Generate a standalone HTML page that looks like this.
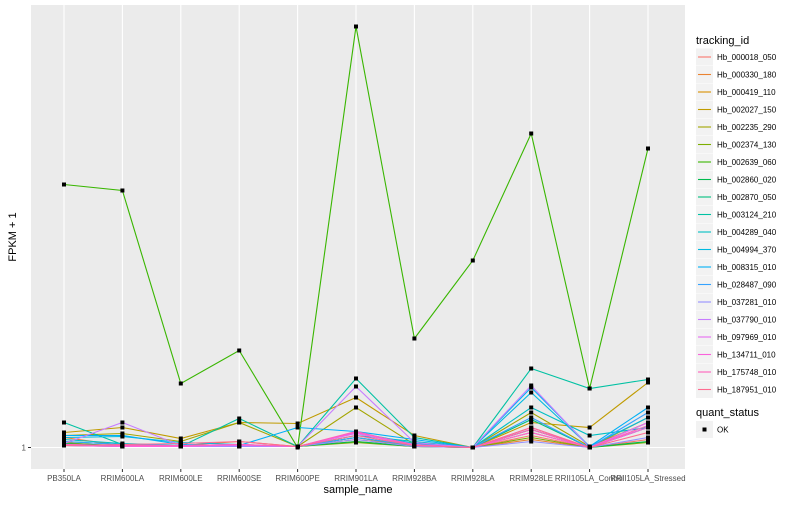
<!DOCTYPE html>
<html><head><meta charset="utf-8"><style>
body{margin:0;background:#fff;font-family:"Liberation Sans",sans-serif}
svg text{font-family:"Liberation Sans",sans-serif}
</style></head><body>
<svg id="chart" width="800" height="500">
<rect x="31" y="5" width="654" height="464" fill="#ebebeb"/>
<g id="grid"></g><g id="lines"></g><g id="pts"></g><g id="axes"></g><g id="legend"></g>
</svg>
<script>
const categories=["PB350LA","RRIM600LA","RRIM600LE","RRIM600SE","RRIM600PE","RRIM901LA","RRIM928BA","RRIM928LA","RRIM928LE","RRII105LA_Control","RRII105LA_Stressed"];
const seriesNames=["Hb_000018_050","Hb_000330_180","Hb_000419_110","Hb_002027_150","Hb_002235_290","Hb_002374_130","Hb_002639_060","Hb_002860_020","Hb_002870_050","Hb_003124_210","Hb_004289_040","Hb_004994_370","Hb_008315_010","Hb_028487_090","Hb_037281_010","Hb_037790_010","Hb_097969_010","Hb_134711_010","Hb_175748_010","Hb_187951_010"];
const colors=["#F8766D","#EA8331","#D89000","#C09B00","#A3A500","#7CAE00","#39B600","#00BB4E","#00BF7D","#00C1A3","#00BFC4","#00BAE0","#00B0F6","#35A2FF","#9590FF","#C77CFF","#E76BF3","#FA62DB","#FF62BC","#FF6C91"];
const s0=[3,2,1,2,1,8,2,0,12,0,8];
const s1=[10,2,2,6,1,6,1,0,8,0,25];
const s2=[5,1,2,1,1,10,1,0,15,0,30];
const s3=[15,20,9,25,24,50,12,0,25,20,65];
const s4=[12,14,6,25,1,40,3,0,35,1,25];
const s5=[2,1,1,1,1,5,1,0,10,0,5];
const s6=[263,257,64,97,0,421,109,187,314,59,299];
const s7=[4,2,1,2,1,6,1,0,18,0,6];
const s8=[6,3,1,2,1,10,2,0,28,0,20];
const s9=[25,3,1,29,1,69,10,0,79,59,68];
const s10=[8,4,2,2,1,12,6,0,40,12,20];
const s11=[10,11,5,3,1,15,4,0,55,1,30];
const s12=[12,12,3,2,20,16,8,0,60,1,40];
const s13=[6,3,2,1,1,10,2,0,30,0,35];
const s14=[2,1,1,1,1,8,1,0,6,0,10];
const s15=[4,25,2,3,1,61,5,0,62,0,25];
const s16=[3,2,1,2,1,14,2,0,20,0,25];
const s17=[2,1,1,3,1,15,3,0,15,0,20];
const s18=[3,2,2,3,1,16,2,0,18,0,22];
const s19=[2,3,4,6,1,12,2,0,20,0,15];
const series=[s0,s1,s2,s3,s4,s5,s6,s7,s8,s9,s10,s11,s12,s13,s14,s15,s16,s17,s18,s19];
const NS="http://www.w3.org/2000/svg";
function X(i){return 64+i*58.4;}
function Y(v){return 447.5-v;}
function mk(tag,attrs,parent){const e=document.createElementNS(NS,tag);for(const k in attrs)e.setAttribute(k,attrs[k]);document.getElementById(parent).appendChild(e);return e;}
// grid
const g=mk("line",{x1:31,x2:685,y1:Y(0),y2:Y(0),stroke:"#fff","stroke-width":1.1},"grid");


categories.forEach((c,i)=>{
 const l=mk("line",{x1:X(i),x2:X(i),y1:5,y2:469,stroke:"#fff","stroke-width":1.1},"grid");
 
 
 const t=mk("line",{x1:X(i),x2:X(i),y1:469,y2:472,stroke:"#333"},"axes");
 
 
 const tx=mk("text",{x:X(i),y:481,"font-size":8,fill:"#4d4d4d","text-anchor":"middle"},"axes");
 tx.textContent=c;
 
 
});
const yt=mk("line",{x1:28,x2:31,y1:Y(0),y2:Y(0),stroke:"#333"},"axes");


const yl=mk("text",{x:26,y:Y(0)+3,"font-size":8,fill:"#4d4d4d","text-anchor":"end"},"axes");
yl.textContent="1";


const xt=mk("text",{x:358,y:493,"font-size":11,fill:"#000","text-anchor":"middle"},"axes");
xt.textContent="sample_name";


const ytt=mk("text",{x:0,y:0,"font-size":11,fill:"#000","text-anchor":"middle",transform:"translate(16,237) rotate(-90)"},"axes");
ytt.textContent="FPKM + 1";


// series
series.forEach((s,k)=>{
 const pts=s.map((v,i)=>X(i)+","+Y(v)).join(" ");
 const pl=mk("polyline",{points:pts,fill:"none",stroke:colors[k],"stroke-width":1.1},"lines");
 
 
 s.forEach((v,i)=>{
  const p=mk("rect",{x:X(i)-2,y:Y(v)-2,width:4,height:4,fill:"#000"},"pts");
  
  
 });
});
// legend
const lt=mk("text",{x:696,y:44,"font-size":11,fill:"#000"},"legend");
lt.textContent="tracking_id";


seriesNames.forEach((n,k)=>{
 const cy=57+k*17.5;
 const b=mk("rect",{x:696,y:cy-8.5,width:17,height:17,fill:"#f2f2f2"},"legend");
 
 
 const ln=mk("line",{x1:698,x2:711,y1:cy,y2:cy,stroke:colors[k],"stroke-width":1.1},"legend");
 
 
 const t=mk("text",{x:717,y:cy+3,"font-size":8,fill:"#000"},"legend");
 t.textContent=n;
 
 
});
const qt=mk("text",{x:696,y:416,"font-size":11,fill:"#000"},"legend");
qt.textContent="quant_status";


const qb=mk("rect",{x:696,y:421,width:17,height:17,fill:"#f2f2f2"},"legend");


const qp=mk("rect",{x:702.5,y:427.5,width:4,height:4,fill:"#000"},"legend");


const qo=mk("text",{x:717,y:432.5,"font-size":8,fill:"#000"},"legend");
qo.textContent="OK";


</script>
</body></html>
